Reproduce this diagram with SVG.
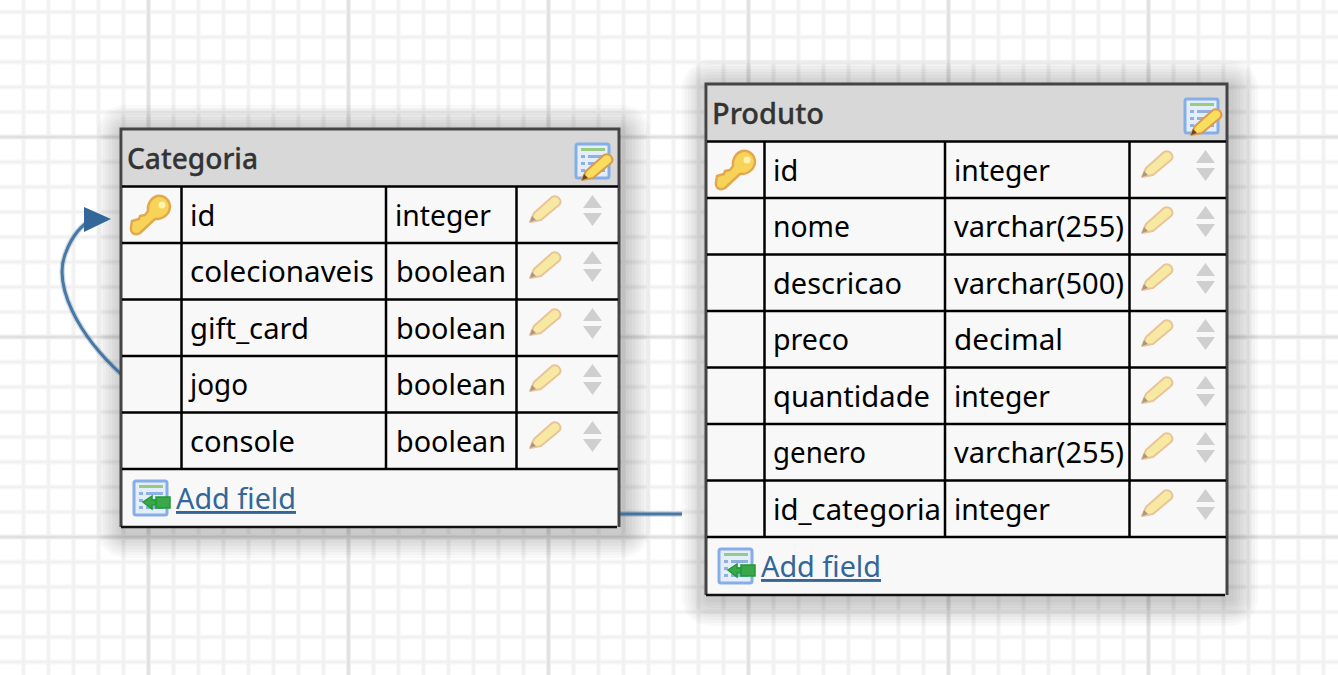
<svg xmlns="http://www.w3.org/2000/svg" width="1338" height="675" viewBox="0 0 1338 675">
<style>
.t{font-family:"Noto Sans","Open Sans","DejaVu Sans",sans-serif;font-size:29px;fill:#000}
.h{font-family:"Noto Sans","Open Sans","DejaVu Sans",sans-serif;font-size:29px;font-weight:500;fill:#333;stroke:#333;stroke-width:.3}
.a{font-family:"Noto Sans","Open Sans","DejaVu Sans",sans-serif;font-size:29px;fill:#369;text-decoration:underline}
.l{stroke:#000;stroke-width:2.500;fill:none}
.g1o{stroke:#f8f8f8;stroke-width:5;fill:none}
.g1{stroke:#f1f1f1;stroke-width:2.500;fill:none}
.g2o{stroke:#f0f0f0;stroke-width:5;fill:none}
.g2{stroke:#e0e0e0;stroke-width:2.500;fill:none}
.box{fill:#f8f8f8;stroke:none}
.head{fill:#d8d8d8}
.c{fill:none;stroke:#369;stroke-width:3;opacity:.85}
.ch{fill:none;stroke:#369;stroke-width:5.500;opacity:.25}
.s rect{fill:none;stroke:#000;stroke-linejoin:round;stroke-opacity:.024}
</style>
<defs>
<g id="key">
<path d="M1 32 L2 26 L9 24 L10 21 L15 20 L18 16 C17 9 21 3 27 1 C33 -0.500 39 4 40 11 C40 18 35 23 28 24 L25 24 L10 38 C5 41 0 38 1 32 Z" fill="#f7d358" stroke="#e2a84e" stroke-width="2.400" stroke-linejoin="round"/>
<circle cx="32" cy="10" r="3.500" fill="#fff3b0"/>
</g>
<g id="penbody">
<path d="M1 27 L5 18 L23 2 C26 0 30 2 31 5 C32 7 31 9 30 10 L12 25 Z" fill="#f9dd5c" stroke="#dc9a4a" stroke-width="2" stroke-linejoin="round"/>
<path d="M1 27 L3 21 L7 25 Z" fill="#6d4524"/>
</g>
<use id="pen" href="#penbody" opacity="0.55"/>
<g id="sort" fill="#cfcfcf">
<path d="M0 13 L9.500 0 L19 13 Z"/>
<path d="M0 18 L19 18 L9.500 31 Z"/>
</g>
<g id="tbl">
<rect x="1" y="1" width="33" height="34" rx="2" fill="#e4edfa" stroke="#86aee6" stroke-width="3"/>
<rect x="6" y="5" width="24" height="3" fill="#96cc80"/>
<g fill="#8fb0e0"><rect x="6" y="12" width="4" height="3"/><rect x="13" y="12" width="17" height="3"/><rect x="6" y="19" width="4" height="3"/><rect x="13" y="19" width="17" height="3"/><rect x="6" y="26" width="4" height="3"/><rect x="13" y="26" width="17" height="3"/></g>
</g>
<path id="add" d="M10 11 L1 17 L10 24 L10 20 L14 20 L14 15 L10 15 Z M14 12 H28 V23 H14 Z" fill="#3aa84a" stroke="#1f9a34" stroke-width="1.500"/>
<path id="gv" d="M23.500 0V675M48.500 0V675M73.500 0V675M98.500 0V675M123.500 0V675M173.500 0V675M198.500 0V675M223.500 0V675M248.500 0V675M273.500 0V675M298.500 0V675M323.500 0V675M373.500 0V675M398.500 0V675M423.500 0V675M448.500 0V675M473.500 0V675M498.500 0V675M523.500 0V675M573.500 0V675M598.500 0V675M623.500 0V675M648.500 0V675M673.500 0V675M698.500 0V675M723.500 0V675M773.500 0V675M798.500 0V675M823.500 0V675M848.500 0V675M873.500 0V675M898.500 0V675M923.500 0V675M973.500 0V675M998.500 0V675M1023.500 0V675M1048.500 0V675M1073.500 0V675M1098.500 0V675M1123.500 0V675M1173.500 0V675M1198.500 0V675M1223.500 0V675M1248.500 0V675M1273.500 0V675M1298.500 0V675M1323.500 0V675M0 12H1338M0 37H1338M0 62H1338M0 87H1338M0 112H1338M0 162H1338M0 187H1338M0 212H1338M0 237H1338M0 262H1338M0 287H1338M0 312H1338M0 362H1338M0 387H1338M0 412H1338M0 437H1338M0 462H1338M0 487H1338M0 512H1338M0 562H1338M0 587H1338M0 612H1338M0 637H1338M0 662H1338"/>
<path id="gm" d="M148.500 0V675M348.500 0V675M548.500 0V675M748.500 0V675M948.500 0V675M1148.500 0V675M0 137H1338M0 337H1338M0 537H1338"/>
</defs>
<rect width="1338" height="675" fill="#fff"/>
<g id="grid">
<use href="#gv" class="g1o"/><use href="#gv" class="g1"/>
<use href="#gm" class="g2o"/><use href="#gm" class="g2"/>
</g>
<g id="shadows" class="s">
<rect x="125" y="133" width="497" height="397" stroke-width="56"/>
<rect x="125" y="133" width="497" height="397" stroke-width="50"/>
<rect x="125" y="133" width="497" height="397" stroke-width="44"/>
<rect x="125" y="133" width="497" height="397" stroke-width="38"/>
<rect x="125" y="133" width="497" height="397" stroke-width="32"/>
<rect x="125" y="133" width="497" height="397" stroke-width="26"/>
<rect x="125" y="133" width="497" height="397" stroke-width="20"/>
<rect x="125" y="133" width="497" height="397" stroke-width="14"/>
<rect x="125" y="133" width="497" height="397" stroke-width="8"/>
<rect x="710" y="88" width="520" height="510" stroke-width="56"/>
<rect x="710" y="88" width="520" height="510" stroke-width="50"/>
<rect x="710" y="88" width="520" height="510" stroke-width="44"/>
<rect x="710" y="88" width="520" height="510" stroke-width="38"/>
<rect x="710" y="88" width="520" height="510" stroke-width="32"/>
<rect x="710" y="88" width="520" height="510" stroke-width="26"/>
<rect x="710" y="88" width="520" height="510" stroke-width="20"/>
<rect x="710" y="88" width="520" height="510" stroke-width="14"/>
<rect x="710" y="88" width="520" height="510" stroke-width="8"/>
</g>
<g id="connectors">
<path class="ch" d="M122 375 C78 335 52 285 66 252 C72 236 82 224 92 220"/>
<path class="c" d="M122 375 C78 335 52 285 66 252 C72 236 82 224 92 220"/>
<path d="M84 207 L111 219 L84 232 Z" fill="#369"/>
<path class="ch" d="M619 514 H682"/>
<path class="c" d="M619 514 H682"/>
</g>
<g id="categoria">
<rect class="box" x="122" y="130" width="497" height="397"/>
<rect class="head" x="123" y="130" width="495" height="56"/>
<path d="M121 527 V129 H619 V527" fill="none" stroke="#444" stroke-width="3"/>
<path d="M121 527 H617" fill="none" stroke="#111" stroke-width="2.500"/>
<path class="l" d="M122 186.500H618M122 243H618M122 299.500H618M122 356H618M122 412.500H618M122 469H618M181.500 186V469M386 186V469M516.500 186V469"/>
<text class="h" x="127" y="169" textLength="131" lengthAdjust="spacingAndGlyphs">Categoria</text>
<use href="#tbl" x="575" y="143"/>
<use href="#penbody" x="581" y="153"/>
<use href="#key" x="130" y="195"/>
<text class="t" x="190" y="226">id</text><text class="t" x="395" y="226" textLength="96" lengthAdjust="spacingAndGlyphs">integer</text>
<text class="t" x="190" y="282" textLength="184" lengthAdjust="spacingAndGlyphs">colecionaveis</text><text class="t" x="396" y="282" textLength="110" lengthAdjust="spacingAndGlyphs">boolean</text>
<text class="t" x="190" y="339" textLength="119" lengthAdjust="spacingAndGlyphs">gift_card</text><text class="t" x="396" y="339" textLength="110" lengthAdjust="spacingAndGlyphs">boolean</text>
<text class="t" x="190" y="395" textLength="58" lengthAdjust="spacingAndGlyphs">jogo</text><text class="t" x="396" y="395" textLength="110" lengthAdjust="spacingAndGlyphs">boolean</text>
<text class="t" x="190" y="452" textLength="105" lengthAdjust="spacingAndGlyphs">console</text><text class="t" x="396" y="452" textLength="110" lengthAdjust="spacingAndGlyphs">boolean</text>
<use href="#pen" x="529" y="195"/><use href="#sort" x="583" y="195"/>
<use href="#pen" x="529" y="251"/><use href="#sort" x="583" y="251"/>
<use href="#pen" x="529" y="308"/><use href="#sort" x="583" y="308"/>
<use href="#pen" x="529" y="364"/><use href="#sort" x="583" y="364"/>
<use href="#pen" x="529" y="421"/><use href="#sort" x="583" y="421"/>
<use href="#tbl" x="133" y="480"/>
<use href="#add" x="142" y="485"/>
<text class="a" x="176" y="509" textLength="120" lengthAdjust="spacingAndGlyphs">Add field</text>
</g>
<g id="produto">
<rect class="box" x="707" y="85" width="520" height="510"/>
<rect class="head" x="708" y="85" width="518" height="56"/>
<path d="M706 595 V84 H1227 V595" fill="none" stroke="#444" stroke-width="3"/>
<path d="M706 595 H1225" fill="none" stroke="#111" stroke-width="2.500"/>
<path class="l" d="M707 141.500H1226M707 198H1226M707 254.500H1226M707 311H1226M707 367.500H1226M707 424H1226M707 480.500H1226M707 537H1226M764.500 141V537M945 141V537M1129.500 141V537"/>
<text class="h" x="712" y="124" textLength="112" lengthAdjust="spacingAndGlyphs">Produto</text>
<use href="#tbl" x="1184" y="98"/>
<use href="#penbody" x="1190" y="108"/>
<use href="#key" x="715" y="150"/>
<text class="t" x="773" y="181">id</text><text class="t" x="954" y="181" textLength="96" lengthAdjust="spacingAndGlyphs">integer</text>
<text class="t" x="773" y="237" textLength="77" lengthAdjust="spacingAndGlyphs">nome</text><text class="t" x="954" y="237" textLength="170" lengthAdjust="spacingAndGlyphs">varchar(255)</text>
<text class="t" x="773" y="294" textLength="129" lengthAdjust="spacingAndGlyphs">descricao</text><text class="t" x="954" y="294" textLength="170" lengthAdjust="spacingAndGlyphs">varchar(500)</text>
<text class="t" x="773" y="350" textLength="76" lengthAdjust="spacingAndGlyphs">preco</text><text class="t" x="954" y="350" textLength="109" lengthAdjust="spacingAndGlyphs">decimal</text>
<text class="t" x="773" y="407" textLength="157" lengthAdjust="spacingAndGlyphs">quantidade</text><text class="t" x="954" y="407" textLength="96" lengthAdjust="spacingAndGlyphs">integer</text>
<text class="t" x="773" y="463" textLength="93" lengthAdjust="spacingAndGlyphs">genero</text><text class="t" x="954" y="463" textLength="170" lengthAdjust="spacingAndGlyphs">varchar(255)</text>
<text class="t" x="773" y="520" textLength="168" lengthAdjust="spacingAndGlyphs">id_categoria</text><text class="t" x="954" y="520" textLength="96" lengthAdjust="spacingAndGlyphs">integer</text>
<use href="#pen" x="1141" y="150"/><use href="#sort" x="1196" y="150"/>
<use href="#pen" x="1141" y="206"/><use href="#sort" x="1196" y="206"/>
<use href="#pen" x="1141" y="263"/><use href="#sort" x="1196" y="263"/>
<use href="#pen" x="1141" y="319"/><use href="#sort" x="1196" y="319"/>
<use href="#pen" x="1141" y="376"/><use href="#sort" x="1196" y="376"/>
<use href="#pen" x="1141" y="432"/><use href="#sort" x="1196" y="432"/>
<use href="#pen" x="1141" y="489"/><use href="#sort" x="1196" y="489"/>
<use href="#tbl" x="718" y="548"/>
<use href="#add" x="727" y="553"/>
<text class="a" x="761" y="577" textLength="120" lengthAdjust="spacingAndGlyphs">Add field</text>
</g>
</svg>
